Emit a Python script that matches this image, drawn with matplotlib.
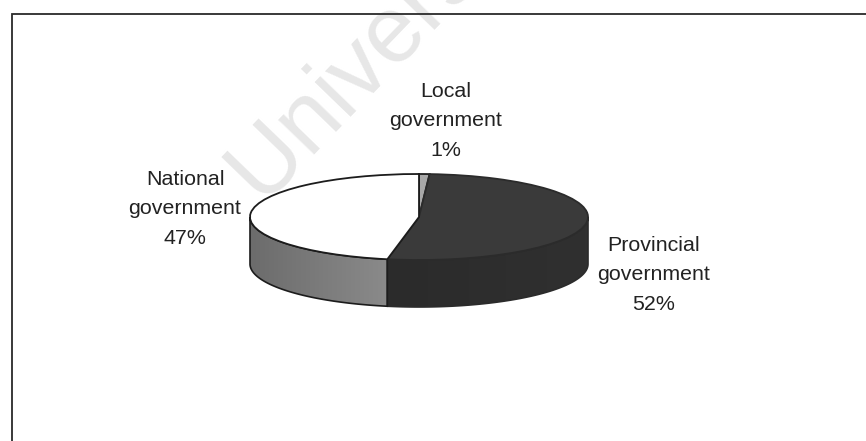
import numpy as np
import matplotlib
matplotlib.use("Agg")
import matplotlib.pyplot as plt
from matplotlib.colors import LinearSegmentedColormap
from matplotlib.lines import Line2D

# Share of funding by sphere of government (%)
spheres = ["Local", "Provincial", "National"]
shares = [1, 52, 47]
top_colours = ["#a8a8a8", "#3a3a3a", "#ffffff"]
# Wall shading of each slice, from its left end to its right end
side_shades = [("#8a8a8a", "#8a8a8a"), ("#2b2b2b", "#303030"), ("#6c6c6c", "#8a8a8a")]
side_edges = ["#1c1c1c", "#2b2b2b", "#1c1c1c"]

W, H = 866, 441
CX, CY = 419, 217      # centre of the pie's top face, in pixels
RX, RY = 169, 43       # radii of the tilted top face, in pixels
DEPTH = 47             # height of the pie wall, in pixels
EDGE = "#1c1c1c"

plt.rcParams["font.family"] = ["Liberation Sans", "DejaVu Sans"]

fig = plt.figure(figsize=(W / 100, H / 100), dpi=100, facecolor="white")


def fx(px):
    return px / W


def fy(py):
    return 1 - py / H


# Faint diagonal stamp running off the top of the page
fig.text(fx(261), fy(202), "University", fontsize=68, color="#e7e7e7",
         rotation=46, rotation_mode="anchor", ha="left", va="baseline", zorder=0)

ax = fig.add_axes([0, 0, 1, 1], zorder=1)
ax.patch.set_alpha(0)

# Top face: a unit pie squashed into an ellipse by unequal axis scales
wedges, _ = ax.pie(shares, colors=top_colours, startangle=90, counterclock=False,
                   wedgeprops={"edgecolor": EDGE, "linewidth": 1.3, "zorder": 3})
wedges[1].set_edgecolor("#2b2b2b")

# Wall: the part of each slice's rim that faces the viewer
drop = DEPTH / RY
edges = 90 - 3.6 * np.cumsum([0] + shares)
for start, end, shades, edge in zip(edges[:-1], edges[1:], side_shades, side_edges):
    lo, hi = max(end, -180), min(start, 0)
    if hi <= lo:
        continue
    t = np.radians(np.linspace(lo, hi, 120))
    xs = np.r_[np.cos(t), np.cos(t[::-1])]
    ys = np.r_[np.sin(t), np.sin(t[::-1]) - drop]
    wall = ax.fill(xs, ys, facecolor="none", edgecolor=edge, linewidth=1.2, zorder=2.5)[0]
    shade = LinearSegmentedColormap.from_list("wall", shades)
    ax.imshow(np.linspace(0, 1, 64)[None, :], cmap=shade, aspect="auto", zorder=2,
              extent=(xs.min(), xs.max(), ys.min(), ys.max()), clip_path=wall)

ax.set_aspect("auto")
ax.set_xlim(-CX / RX, (W - CX) / RX)
ax.set_ylim((CY - H) / RY, CY / RY)
ax.set_axis_off()

# Slice captions
label_spots = [(446, 121), (654, 275), (185, 209)]
for name, share, (px, py) in zip(spheres, shares, label_spots):
    fig.text(fx(px), fy(py), f"{name}\ngovernment\n{share}%", fontsize=15.4, color="#222222",
             ha="center", va="center", linespacing=1.7, zorder=5)

# Left and top rules of the box around the chart
fig.add_artist(Line2D([fx(12), fx(12), fx(W)], [0, fy(14), fy(14)], color="#2a2a2a",
                      linewidth=1.3, solid_joinstyle="miter", zorder=4))

fig.savefig("out.png", dpi=100)
